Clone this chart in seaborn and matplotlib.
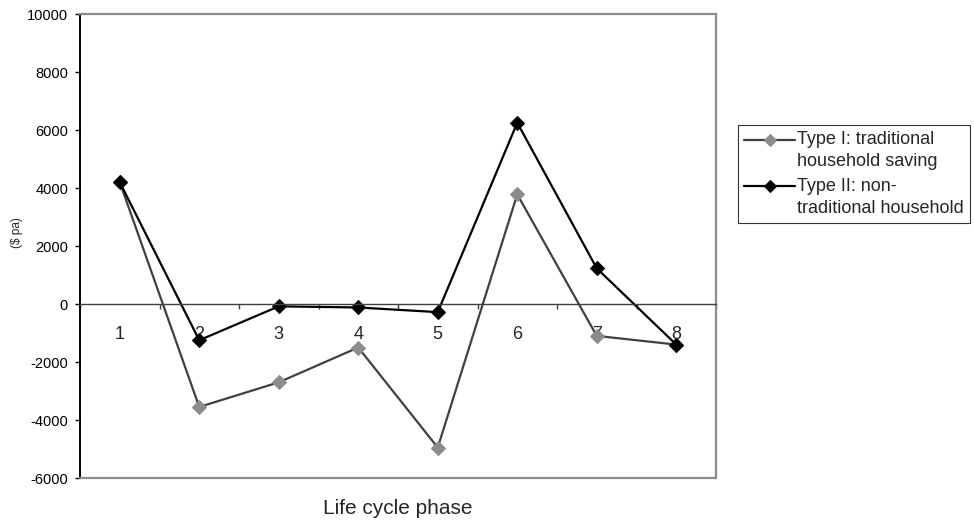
import matplotlib
matplotlib.use('Agg')
import matplotlib.pyplot as plt
import seaborn as sns

# values
phases = [1, 2, 3, 4, 5, 6, 7, 8]
type1 = [4200, -3550, -2700, -1500, -4950, 3780, -1100, -1400]
type2 = [4200, -1250, -80, -120, -280, 6250, 1230, -1400]
label1 = 'Type I: traditional\nhousehold saving'
label2 = 'Type II: non-\ntraditional household'
yticks = list(range(-6000, 10001, 2000))

sns.set_style('white')
plt.rcParams['font.family'] = ['Liberation Sans', 'DejaVu Sans']
plt.rcParams['axes.unicode_minus'] = False

fig = plt.figure(figsize=(9.74, 5.23), dpi=100)
ax = fig.add_axes([80 / 974, 45 / 523, 636 / 974, 464 / 523])

sns.lineplot(x=phases, y=type1, ax=ax, color='#404040', linewidth=1.6,
             marker='D', markersize=7.5, markerfacecolor='#8c8c8c',
             markeredgecolor='#8c8c8c', label=label1)
sns.lineplot(x=phases, y=type2, ax=ax, color='black', linewidth=1.6,
             marker='D', markersize=7.5, markerfacecolor='black',
             markeredgecolor='black', label=label2)

ax.set_xlim(0.5, 8.5)
ax.set_ylim(-6000, 10000)
ax.set_yticks(yticks)
ax.tick_params(axis='y', direction='out', length=3.6, width=1, pad=5,
               labelsize=10.5, left=True, colors='black')

# category axis crosses at zero, labels sit below it inside the plot
ax.spines['bottom'].set_position(('data', 0))
ax.spines['bottom'].set_color('#404040')
ax.spines['bottom'].set_linewidth(1)
ax.set_xticks([p + 0.5 for p in [0] + phases])
ax.set_xticklabels([])
ax.set_xticks(phases, minor=True)
ax.set_xticklabels([str(p) for p in phases], minor=True)
ax.tick_params(axis='x', which='major', direction='out', length=3.5, width=1,
               color='#404040', bottom=True)
ax.tick_params(axis='x', which='minor', length=0, pad=16, labelsize=13)

ax.spines['left'].set_color('black')
ax.spines['left'].set_linewidth(1.4)
for s in ['top', 'right']:
    ax.spines[s].set_color('#8c8c8c')
    ax.spines[s].set_linewidth(1.6)
# plot-area frame bottom edge
ax.plot([0, 1], [0, 0], transform=ax.transAxes, color='#8c8c8c',
        linewidth=1.6, clip_on=False, zorder=5)

ax.set_xlabel('Life cycle phase', fontsize=15)
ax.xaxis.set_label_coords(0.5, -0.045)
ax.set_ylabel('($ pa)', fontsize=8.5)
ax.yaxis.set_label_coords(-0.09, 0.53)

leg = ax.legend(loc='upper left', bbox_to_anchor=(738 / 974, 1 - 125 / 523),
                bbox_transform=fig.transFigure, fontsize=13, frameon=True,
                fancybox=False, shadow=False, edgecolor='black',
                handlelength=2.8, handletextpad=0.1, borderpad=0.35,
                labelspacing=0.45, borderaxespad=0, markerscale=0.8)
leg.get_frame().set_linewidth(0.8)
for t in leg.get_texts():
    t.set_linespacing(1.35)
# put each legend key level with the first line of its label
for h in leg.legend_handles:
    h.set_ydata(h.get_ydata() + 8)

fig.savefig('out.png', dpi=100)
